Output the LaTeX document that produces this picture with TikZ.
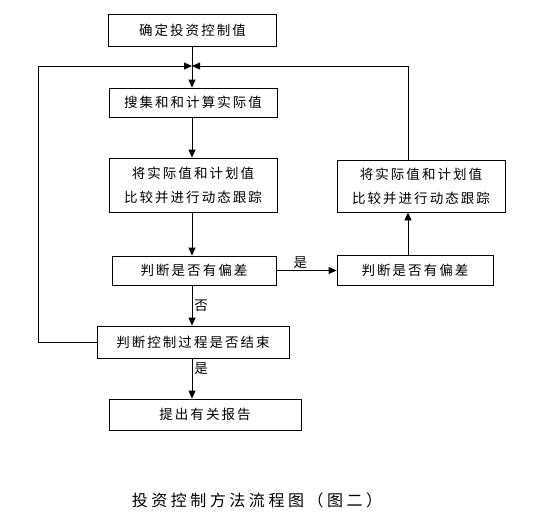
\documentclass[tikz,border=0pt]{standalone}
\usepackage{fontspec}
\usepackage{tikz}
\usetikzlibrary{arrows.meta, positioning, calc}
\newfontfamily\cjk[LetterSpace=15]{Noto Sans CJK SC}
\newfontfamily\cjkcap[LetterSpace=22]{Noto Sans CJK SC}
\tikzset{
  flowbox/.style={
    draw, thick, align=center, inner sep=0pt,
    minimum width=168pt, minimum height=30pt,
    font=\cjk\fontsize{13.5}{24}\selectfont, fill=white
  },
  flowarrow/.style={-{Triangle[length=8pt,width=7pt]}, thick, color=black},
  flowlabel/.style={font=\cjk\fontsize{13.5}{15}\selectfont, inner sep=2pt},
}
\begin{document}
\begin{tikzpicture}[x=1pt, y=-1pt]
  \useasboundingbox (0,0) rectangle (549,525);
  % Main column
  \node[flowbox, minimum height=32pt] (confirm) at (192.5,30) {确定投资控制值};
  \node[flowbox, minimum height=29pt] (collect) at (193,102.5) {搜集和和计算实际值};
  \node[flowbox, minimum height=54pt] (compare) at (193,185) {将实际值和计划值\\比较并进行动态跟踪};
  \node[flowbox, minimum width=164pt, minimum height=29pt] (deviate) at (194,270.5) {判断是否有偏差};
  \node[flowbox, minimum width=192pt, minimum height=32pt] (finish) at (193,342) {判断控制过程是否结束};
  \node[flowbox, minimum width=192pt, minimum height=31pt] (report) at (205,414.5) {提出有关报告};

  % Right column
  \node[flowbox, minimum width=156pt, minimum height=30pt] (deviateR) at (415,270) {判断是否有偏差};
  \node[flowbox, minimum height=52pt] (compareR) at (421,186) {将实际值和计划值\\比较并进行动态跟踪};

  % Loop points
  \coordinate (join) at (192,66);
  \coordinate (loopL) at (38,66);
  \coordinate (loopR) at (408,66);

  % Connectors
  \draw[flowarrow] (confirm.south -| join) -- (join |- collect.north);
  \draw[flowarrow] (join |- collect.south) -- (join |- compare.north);
  \draw[flowarrow] (join |- compare.south) -- (join |- deviate.north);
  \draw[flowarrow] (deviate.east) -- node[flowlabel, above, pos=0.4] {是} (deviate.east -| deviateR.west);
  \draw[flowarrow] (loopR |- deviateR.north) -- (loopR |- compareR.south);
  \draw[flowarrow] (loopR |- compareR.north) -- (loopR) -- (join);
  \draw[flowarrow] (join |- deviate.south) -- node[flowlabel, right, pos=0.5] {否} (join |- finish.north);
  \draw[flowarrow] (finish.west) -| (loopL) -- (join);
  \draw[flowarrow] (join |- finish.south) -- node[flowlabel, right, pos=0.25] {是} (join |- report.north);

  % Caption
  \node[font=\cjkcap\fontsize{16}{18}\selectfont] (caption) at (257,500) {投资控制方法流程图（图二）};
\end{tikzpicture}
\end{document}
